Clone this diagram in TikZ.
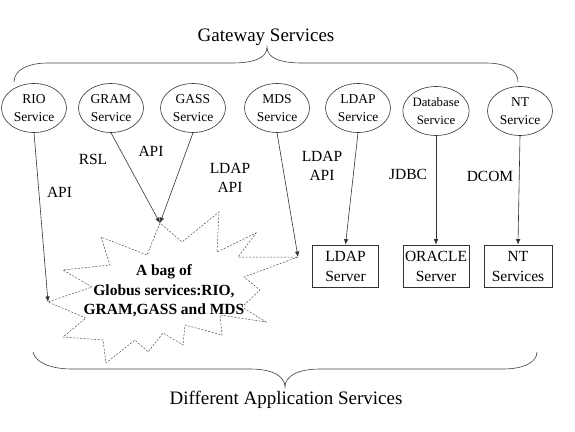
\documentclass[tikz,border=0pt]{standalone}
\usepackage{fontspec}
\setmainfont{Liberation Serif}
\usetikzlibrary{arrows.meta,shapes.geometric}
\begin{document}
\begin{tikzpicture}[x=1pt,y=-1pt,
  line width=0.6pt,
  svc/.style={ellipse,draw=black!80,minimum width=65pt,minimum height=49pt,inner sep=0pt,align=center,font=\fontsize{13.5}{17.5}\selectfont},
  srv/.style={rectangle,draw=black!80,minimum width=66pt,minimum height=42pt,inner sep=0pt,align=center,font=\fontsize{15.5}{20}\selectfont},
  lbl/.style={align=center,inner sep=0pt,font=\fontsize{15.5}{19}\selectfont},
  conn/.style={draw=black!80,-{Latex[length=5.5pt,width=4.5pt]}},
  brace/.style={draw=black!75,line width=0.6pt},
  burst/.style={draw=black!70,dash pattern=on 2pt off 1.5pt,line width=0.5pt}]
\useasboundingbox (0,0) rectangle (575,431);

% top brace and title
\node[font=\fontsize{19}{22}\selectfont,inner sep=0pt] (gw) at (266,37) {Gateway Services};
\draw[brace] (14,82) .. controls (14,70) and (28,63) .. (48,63) -- (232,63)
  .. controls (254,63) and (267,58) .. (267,47)
  .. controls (267,58) and (280,63) .. (302,63) -- (486,63)
  .. controls (506,63) and (518,70) .. (518,82);

% services
\node[svc] (rio)  at (34,108)  {RIO\\Service};
\node[svc] (gram) at (111,108) {GRAM\\Service};
\node[svc] (gass) at (193,108) {GASS\\Service};
\node[svc] (mds)  at (277,108) {MDS\\Service};
\node[svc] (ldap) at (358,108) {LDAP\\Service};
\node[svc,minimum width=63pt,font=\fontsize{12.8}{18.5}\selectfont] (db) at (436,111) {Database\\Service};
\node[svc] (nt)   at (520,111) {NT\\Service};

% servers
\node[srv] (ldaps) at (345.5,266) {LDAP\\Server};
\node[srv] (orc)   at (436,266) {ORACLE\\Server};
\node[srv,minimum width=68pt] (nts) at (518,266) {NT\\Services};

% burst
\coordinate (p1) at (160,223);
\coordinate (p2) at (147,255);
\coordinate (p3) at (101,237);
\coordinate (p4) at (110,265);
\coordinate (p5) at (63,270);
\coordinate (p6) at (92,287);
\coordinate (p7) at (48,302);
\coordinate (p8) at (86,318);
\coordinate (p9) at (63,337);
\coordinate (p10) at (103,340);
\coordinate (p11) at (106,363);
\coordinate (p12) at (135,340);
\coordinate (p13) at (148,352);
\coordinate (p14) at (163,333);
\coordinate (p15) at (183,345);
\coordinate (p16) at (185,325);
\coordinate (p17) at (222,335);
\coordinate (p18) at (220,315);
\coordinate (p19) at (266,322);
\coordinate (p20) at (242,307);
\coordinate (p21) at (260,290);
\coordinate (p22) at (244,277);
\coordinate (p23) at (298,257);
\coordinate (p24) at (238,257);
\coordinate (p25) at (256,233);
\coordinate (p26) at (217,252);
\coordinate (p27) at (219,212);
\coordinate (p28) at (182,242);
\draw[burst] (p1) -- (p2) -- (p3) -- (p4) -- (p5) -- (p6) -- (p7) -- (p8) -- (p9) -- (p10)
  -- (p11) -- (p12) -- (p13) -- (p14) -- (p15) -- (p16) -- (p17) -- (p18) -- (p19) -- (p20)
  -- (p21) -- (p22) -- (p23) -- (p24) -- (p25) -- (p26) -- (p27) -- (p28) -- cycle;
\node[align=center,inner sep=0pt,font=\bfseries\fontsize{15.5}{19.5}\selectfont] (bag) at (164,291)
  {A bag of\\Globus services:RIO,\\GRAM,GASS and MDS};

% connectors
\draw[conn] (rio.south) -- (p7);
\draw[conn] (gram.south) -- (p1);
\draw[conn] (gass.south) -- (p1);
\draw[conn] (mds.south) -- (p23);
\draw[conn] (ldap.south) -- (ldaps.north);
\draw[conn] (db.south) -- (orc.north);
\draw[conn] (nt.south) -- (nts.north);

% labels
\node[lbl] (l1) at (59.5,192.5) {API};
\node[lbl] (l2) at (93,159) {RSL};
\node[lbl] (l3) at (151,151) {API};
\node[lbl] (l4) at (230,178) {LDAP\\API};
\node[lbl] (l5) at (322,166) {LDAP\\API};
\node[lbl] (l6) at (408,174) {JDBC};
\node[lbl] (l7) at (490,176) {DCOM};

% bottom brace and caption
\draw[brace] (33,352) .. controls (35,362) and (50,369) .. (72,369) -- (250,369)
  .. controls (272,369) and (285,376) .. (285,387)
  .. controls (285,376) and (298,369) .. (320,369) -- (503,369)
  .. controls (524,369) and (537,362) .. (537,352);
\node[font=\fontsize{19}{22}\selectfont,inner sep=0pt] (das) at (286,400) {Different Application Services};
\end{tikzpicture}
\end{document}
